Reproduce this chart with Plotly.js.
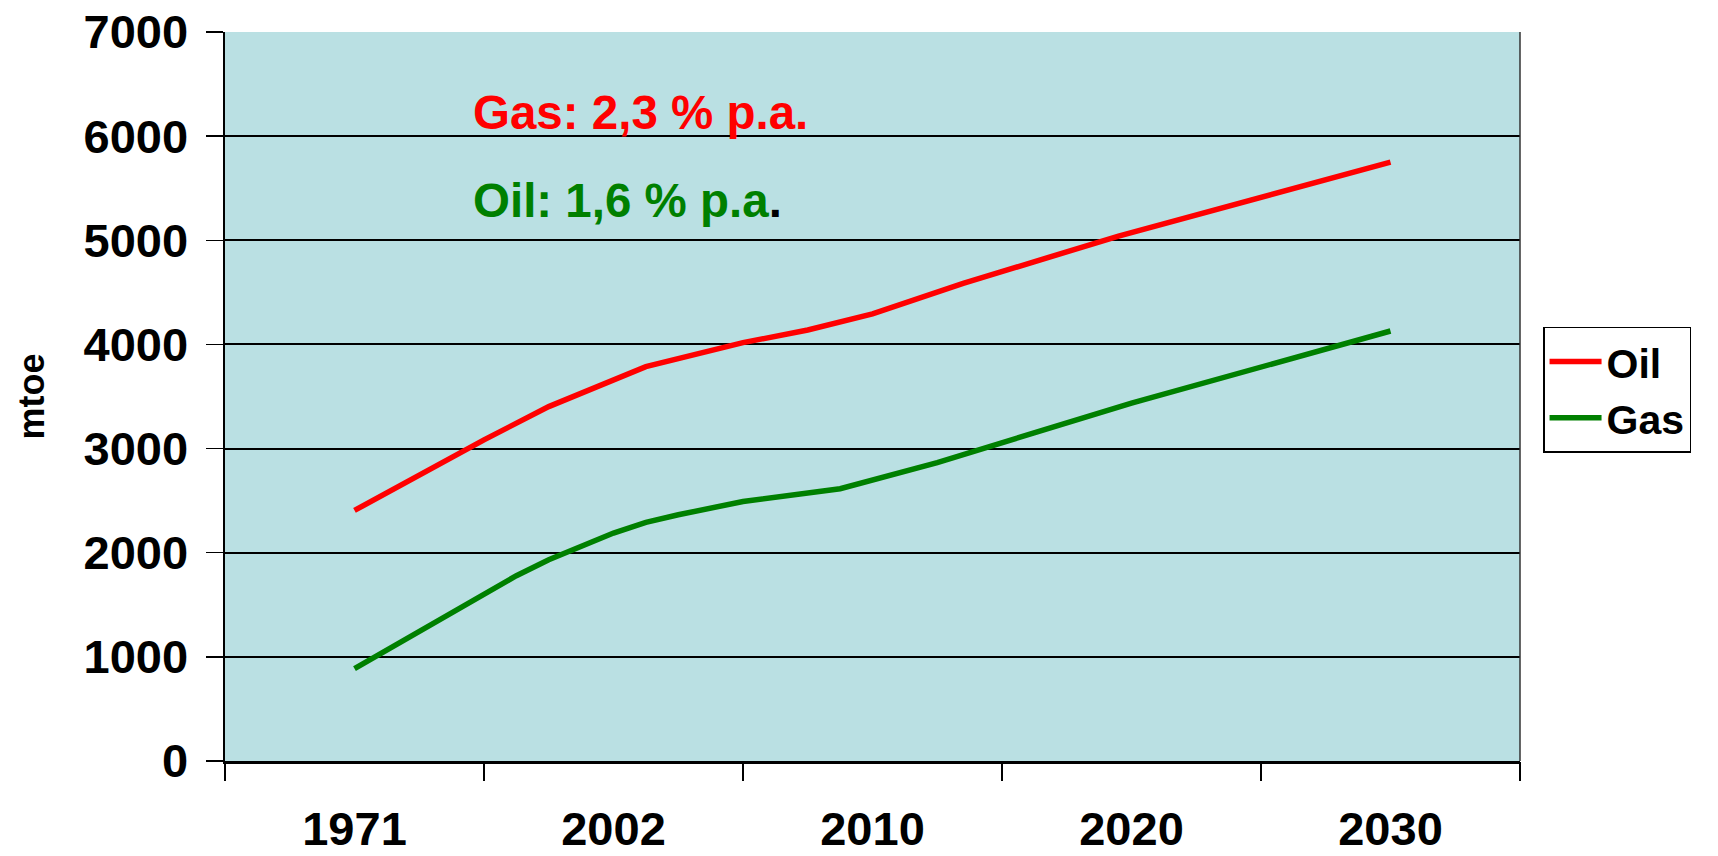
<!DOCTYPE html>
<html>
<head>
<meta charset="utf-8">
<script src="https://cdn.plot.ly/plotly-3.0.1.min.js"></script>
<style>
  html, body { margin: 0; padding: 0; background: #ffffff; }
  #chart { width: 1718px; height: 856px; }
</style>
</head>
<body>
<div id="chart"></div>
<script>
// Category labels on the x axis
const categories = ['1971', '2002', '2010', '2020', '2030'];

// Oil demand (mtoe); x = position along the category axis (0 = 1971 ... 4 = 2030)
const oilX    = [0, 0.5, 0.75, 1.0, 1.125, 1.5, 1.75, 2.0, 2.35, 2.95, 4.0];
const oilMtoe = [2406, 3084, 3403, 3659, 3787, 4017, 4139, 4293, 4587, 5040, 5751];

// Gas demand (mtoe)
const gasX    = [0, 0.625, 0.75, 0.875, 1.0, 1.125, 1.25, 1.5, 1.75, 1.875, 2.25, 3.0, 4.0];
const gasMtoe = [887, 1779, 1933, 2067, 2189, 2291, 2364, 2492, 2572, 2614, 2866, 3436, 4129];

// Y axis ticks
const yTicks = [0, 1000, 2000, 3000, 4000, 5000, 6000, 7000];

const FONT = 'Liberation Sans, Arial, Helvetica, sans-serif';
const catIdx = categories.map((c, i) => i);
const boundaries = categories.map((c, i) => i - 0.5).concat([categories.length - 0.5]);

const traces = [
  {
    x: oilX, y: oilMtoe, name: 'Oil', type: 'scatter', mode: 'lines',
    line: { color: '#FF0000', width: 5.5 }
  },
  {
    x: gasX, y: gasMtoe, name: 'Gas', type: 'scatter', mode: 'lines',
    line: { color: '#008000', width: 5.5 }
  },
  // helper trace so the boundary-tick axis is drawn
  { x: [0], y: [null], xaxis: 'x2', yaxis: 'y', showlegend: false, hoverinfo: 'skip', mode: 'lines' }
];

const layout = {
  width: 1718, height: 856,
  margin: { l: 225, r: 198, t: 32, b: 95 },
  paper_bgcolor: '#ffffff',
  plot_bgcolor: 'rgb(186,224,227)',
  font: { family: FONT, color: '#000000' },
  showlegend: true,
  legend: {
    x: 1.0178, xanchor: 'left', y: 0.5955, yanchor: 'top',
    bgcolor: '#ffffff', bordercolor: '#000000', borderwidth: 1.5,
    font: { family: FONT, size: 41, color: '#000000', weight: 'bold' },
    itemwidth: 52,
    entrywidth: 220, entrywidthmode: 'pixels',
    tracegroupgap: 0
  },
  xaxis: {
    range: [-0.5, categories.length - 0.5],
    tickvals: catIdx, ticktext: categories,
    ticks: '', showgrid: false, zeroline: false,
    showline: true, linecolor: '#000000', linewidth: 3,
    ticklabelstandoff: 25,
    tickfont: { family: FONT, size: 47, color: '#000000', weight: 'bold' },
    fixedrange: true
  },
  xaxis2: {
    overlaying: 'x', side: 'bottom',
    range: [-0.5, categories.length - 0.5],
    tickvals: boundaries, showticklabels: false,
    ticks: 'outside', ticklen: 19, tickwidth: 1.5, tickcolor: '#000000',
    showgrid: false, zeroline: false, showline: false
  },
  yaxis: {
    range: [0, 7000], tickvals: yTicks,
    ticks: 'outside', ticklen: 17, tickwidth: 1.5, tickcolor: '#000000',
    showgrid: true, gridcolor: '#000000', gridwidth: 2,
    zeroline: false, showline: true, linecolor: '#000000', linewidth: 2.5,
    ticklabelstandoff: 8,
    tickfont: { family: FONT, size: 47, color: '#000000', weight: 'bold' },
    title: { text: 'mtoe', standoff: 28, font: { family: FONT, size: 36, color: '#000000', weight: 'bold' } },
    fixedrange: true
  },
  shapes: [
    { type: 'line', xref: 'paper', yref: 'paper', x0: 1, x1: 1, y0: 0, y1: 1,
      line: { color: '#333333', width: 1.5 } }
  ],
  annotations: [
    { xref: 'paper', yref: 'paper', x: 0.19, y: 0.889, xanchor: 'left', yanchor: 'middle',
      text: 'Gas: 2,3 % p.a.', showarrow: false,
      font: { family: FONT, size: 47.5, color: '#FF0000', weight: 'bold' } },
    { xref: 'paper', yref: 'paper', x: 0.19, y: 0.769, xanchor: 'left', yanchor: 'middle',
      text: 'Oil: 1,6 % p.a<span style="color:#000000">.</span>', showarrow: false,
      font: { family: FONT, size: 47.5, color: '#008000', weight: 'bold' } }
  ]
};

Plotly.newPlot('chart', traces, layout, { staticPlot: true, displayModeBar: false });
</script>
</body>
</html>
